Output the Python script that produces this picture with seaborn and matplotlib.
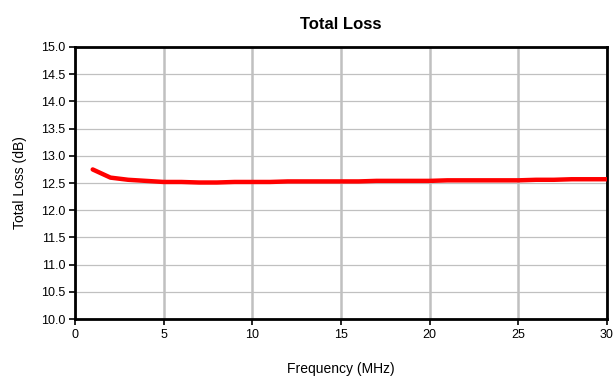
import matplotlib
matplotlib.use("Agg")
import matplotlib.pyplot as plt
import seaborn as sns
import pandas as pd

freq = list(range(1, 31))
loss = [12.75, 12.60, 12.56, 12.54, 12.52, 12.52, 12.51, 12.51, 12.52, 12.52,
        12.52, 12.53, 12.53, 12.53, 12.53, 12.53, 12.54, 12.54, 12.54, 12.54,
        12.55, 12.55, 12.55, 12.55, 12.55, 12.56, 12.56, 12.57, 12.57, 12.57]
x_ticks = [0, 5, 10, 15, 20, 25, 30]
y_ticks = [10.0 + 0.5 * i for i in range(11)]

sns.set_theme(style="white")
plt.rcParams['font.family'] = ['Liberation Sans', 'DejaVu Sans']
plt.rcParams['text.color'] = 'black'
plt.rcParams['axes.labelcolor'] = 'black'
plt.rcParams['xtick.color'] = 'black'
plt.rcParams['ytick.color'] = 'black'

df = pd.DataFrame({"Frequency (MHz)": freq, "Total Loss (dB)": loss})

fig = plt.figure(figsize=(6.13, 3.79), dpi=100)
ax = fig.add_axes([0.1223, 0.158, 0.8679, 0.718])
sns.lineplot(data=df, x="Frequency (MHz)", y="Total Loss (dB)", ax=ax,
             color="#ff0000", linewidth=3.2, zorder=3)

ax.set_xlim(0, 30)
ax.set_ylim(10, 15)
ax.set_xticks(x_ticks)
ax.set_yticks(y_ticks)
ax.set_yticklabels([f"{v:.1f}" for v in y_ticks])
ax.xaxis.grid(True, color="#c0c0c0", linewidth=1.8)
ax.yaxis.grid(True, color="#c0c0c0", linewidth=0.9)
for s in ax.spines.values():
    s.set_visible(True)
    s.set_color("black")
    s.set_linewidth(2)
ax.tick_params(axis="both", which="major", direction="out", length=4, width=1.2,
               color="black", labelcolor="black", labelsize=9, pad=3, bottom=True, left=True)
ax.set_xlabel("Frequency (MHz)", fontsize=10, labelpad=15, color="black")
ax.set_ylabel("Total Loss (dB)", fontsize=10, labelpad=10, color="black")
ax.set_title("Total Loss", fontsize=12, fontweight="bold", pad=13, color="black")

fig.savefig("out.png", dpi=100)
